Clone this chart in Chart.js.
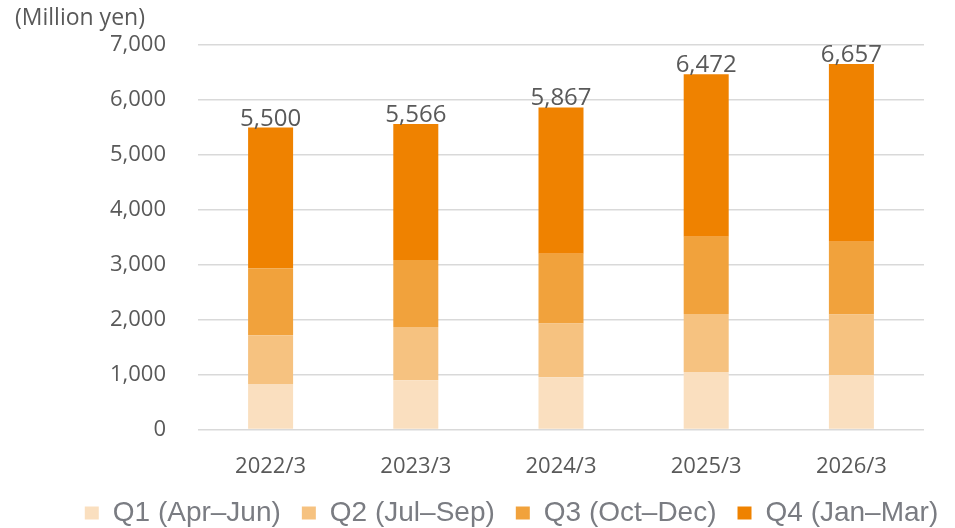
<!DOCTYPE html>
<html>
<head>
<meta charset="utf-8">
<script src="https://cdn.jsdelivr.net/npm/chart.js@4.4.0/dist/chart.umd.min.js"></script>
<style>
  html, body { margin: 0; padding: 0; background: #fff; }
  #wrap { width: 955px; height: 528px; position: relative; }
</style>
</head>
<body>
<div id="wrap"><canvas id="salesChart"></canvas></div>
<script>
// Datos
const categories = ['2022/3', '2023/3', '2024/3', '2025/3', '2026/3'];
const q1Values = [830, 900, 955, 1050, 990];
const q2Values = [890, 970, 975, 1055, 1105];
const q3Values = [1220, 1220, 1270, 1405, 1325];
const q4Values = [2560, 2476, 2667, 2962, 3237];
const totals = [5500, 5566, 5867, 6472, 6657];
const seriesLabels = ['Q1 (Apr\u2013Jun)', 'Q2 (Jul\u2013Sep)', 'Q3 (Oct\u2013Dec)', 'Q4 (Jan\u2013Mar)'];
const yTicks = [0, 1000, 2000, 3000, 4000, 5000, 6000, 7000];
const unitText = '(Million yen)';

const colors = ['#FADFBF', '#F6C280', '#F1A23C', '#EF8200'];
const TEXT = '#595959';
const FONT = "'Open Sans', 'Noto Sans', sans-serif";

// Totales sobre cada barra + unidad arriba a la izquierda
const totalLabels = {
  id: 'totalLabels',
  afterLayout(chart) {
    // correr la leyenda un poco a la derecha, como en el original
    chart.legend.left += 42;
    chart.legend.right += 42;
  },
  afterDatasetsDraw(chart) {
    const ctx = chart.ctx;
    const meta = chart.getDatasetMeta(chart.data.datasets.length - 1);
    ctx.save();
    ctx.font = '24px ' + FONT;
    ctx.fillStyle = TEXT;
    ctx.textAlign = 'center';
    ctx.textBaseline = 'alphabetic';
    meta.data.forEach((bar, i) => {
      ctx.fillText(totals[i].toLocaleString('en-US'), bar.x, bar.y - 2);
    });
    ctx.font = '23px ' + FONT;
    ctx.textAlign = 'left';
    ctx.textBaseline = 'middle';
    ctx.fillText(unitText, 15, 18);
    ctx.restore();
  }
};

const allValues = [q1Values, q2Values, q3Values, q4Values];

new Chart(document.getElementById('salesChart').getContext('2d'), {
  type: 'bar',
  data: {
    labels: categories,
    datasets: allValues.map((vals, i) => ({
      label: seriesLabels[i],
      data: vals,
      backgroundColor: colors[i],
      borderWidth: 0,
      barPercentage: 0.31,
      categoryPercentage: 1,
    }))
  },
  options: {
    responsive: true,
    maintainAspectRatio: false,
    animation: false,
    layout: { padding: { left: 15, right: 31, top: 41, bottom: -9 } },
    plugins: {
      legend: {
        position: 'bottom',
        labels: {
          color: '#7A7C82',
          boxWidth: 14,
          boxHeight: 13,
          padding: 21,
          font: { family: "'Liberation Sans', Arial, sans-serif", size: 28 }
        }
      },
      tooltip: { enabled: false }
    },
    scales: {
      x: {
        stacked: true,
        grid: { display: false },
        border: { display: false },
        afterFit(axis) {
          axis.height -= 18;
        },
        ticks: { color: TEXT, font: { family: FONT, size: 22 }, padding: 16 }
      },
      y: {
        stacked: true,
        min: 0,
        max: 7000,
        afterBuildTicks(axis) {
          axis.ticks = yTicks.map(v => ({ value: v }));
        },
        afterFit(axis) {
          axis.width = 183;
        },
        grid: { color: '#D9D9D9', lineWidth: 1.5, drawTicks: false },
        border: { display: false },
        ticks: {
          color: TEXT,
          padding: 32,
          font: { family: FONT, size: 22 },
          callback: v => v.toLocaleString('en-US')
        }
      }
    }
  },
  plugins: [totalLabels]
});
</script>
</body>
</html>
